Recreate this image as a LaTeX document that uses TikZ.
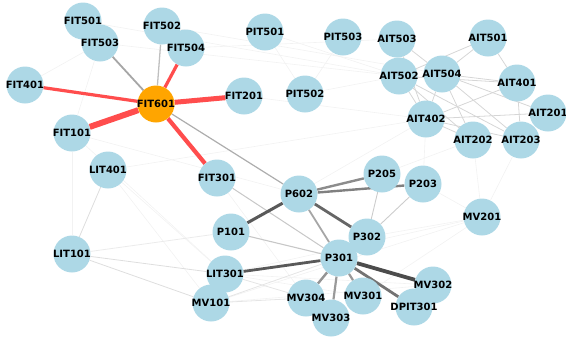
\documentclass[tikz,border=0pt]{standalone}
\usepackage{fontspec}
\newfontfamily\lblfont{DejaVu Sans}
\usetikzlibrary{backgrounds}
\definecolor{nodeblue}{RGB}{173,216,230}
\definecolor{hub}{RGB}{255,165,0}
\definecolor{redge}{RGB}{255,77,77}
\tikzset{
  nd/.style={circle, fill=nodeblue, minimum size=37pt, inner sep=0pt,
    font=\lblfont\bfseries\fontsize{10}{12}\selectfont},
  hubnd/.style={nd, fill=hub},
  faint/.style={draw=black!5, line width=0.6pt},
  light/.style={draw=black!16, line width=0.8pt},
}
\newcommand{\lb}[1]{\makebox[0pt]{#1}}
\begin{document}
\begin{tikzpicture}[x=1pt,y=-1pt]
\useasboundingbox (0,0) rectangle (566,338);
% nodes
\node[nd] (FIT501) at (83,21) {\lb{FIT501}};
\node[nd] (FIT502) at (162,26) {\lb{FIT502}};
\node[nd] (FIT503) at (100,43) {\lb{FIT503}};
\node[nd] (FIT504) at (186,48) {\lb{FIT504}};
\node[nd] (FIT401) at (25,85) {\lb{FIT401}};
\node[nd] (FIT201) at (244,96) {\lb{FIT201}};
\node[nd] (FIT101) at (72,133) {\lb{FIT101}};
\node[nd] (PIT501) at (265,32) {\lb{PIT501}};
\node[nd] (PIT503) at (343,37) {\lb{PIT503}};
\node[nd] (PIT502) at (305,94) {\lb{PIT502}};
\node[nd] (AIT503) at (397,39) {\lb{AIT503}};
\node[nd] (AIT501) at (488,38) {\lb{AIT501}};
\node[nd] (AIT502) at (399,76) {\lb{AIT502}};
\node[nd] (AIT504) at (442,74) {\lb{AIT504}};
\node[nd] (AIT401) at (517,83) {\lb{AIT401}};
\node[nd] (AIT201) at (548,113) {\lb{AIT201}};
\node[nd] (AIT402) at (426,119) {\lb{AIT402}};
\node[nd] (AIT202) at (473,140) {\lb{AIT202}};
\node[nd] (AIT203) at (521,140) {\lb{AIT203}};
\node[nd] (LIT401) at (108,170) {\lb{LIT401}};
\node[nd] (FIT301) at (217,178) {\lb{FIT301}};
\node[nd] (P101) at (231,232) {\lb{P101}};
\node[nd] (LIT101) at (72,254) {\lb{LIT101}};
\node[nd] (MV101) at (211,303) {\lb{MV101}};
\node[nd] (LIT301) at (225,274) {\lb{LIT301}};
\node[nd] (P205) at (382,174) {\lb{P205}};
\node[nd] (P203) at (423,184) {\lb{P203}};
\node[nd] (P602) at (299,194) {\lb{P602}};
\node[nd] (MV201) at (482,217) {\lb{MV201}};
\node[nd] (P302) at (367,237) {\lb{P302}};
\node[nd] (P301) at (339,258) {\lb{P301}};
\node[nd] (MV302) at (433,285) {\lb{MV302}};
\node[nd] (MV304) at (306,298) {\lb{MV304}};
\node[nd] (MV301) at (363,296) {\lb{MV301}};
\node[nd] (DPIT301) at (414,307) {\lb{DPIT301}};
\node[nd] (MV303) at (331,318) {\lb{MV303}};
\node[hubnd] (FIT601) at (156,104) {\lb{FIT601}};
\begin{pgfonlayer}{background}
% very faint background links
\foreach \a/\b in {FIT501/AIT502, FIT503/AIT502, FIT502/AIT504, PIT501/AIT502, FIT504/AIT503,
  PIT501/PIT502, PIT503/PIT502, FIT101/P602, FIT101/LIT301, LIT401/AIT402, LIT401/LIT301,
  LIT401/MV101, FIT101/LIT101, FIT401/FIT503, FIT101/FIT503, PIT502/AIT502, FIT201/AIT402,
  MV101/MV201, LIT301/MV201, P302/MV201, MV301/MV201, P203/MV201, AIT202/MV201, AIT203/MV201,
  P205/AIT202, P203/AIT402, MV101/MV302, LIT301/MV302, FIT301/MV304, P101/AIT402, LIT301/MV301}
  \draw[faint] (\a) -- (\b);
% AIT cluster
\foreach \a/\b in {AIT503/AIT504, AIT501/AIT504, AIT501/AIT502, AIT504/AIT401, AIT504/AIT201,
  AIT504/AIT203, AIT504/AIT202, AIT504/AIT402, AIT502/AIT402, AIT502/AIT202, AIT502/AIT203,
  AIT401/AIT402, AIT402/AIT201, AIT402/AIT202, AIT402/AIT203, AIT502/AIT401, AIT503/AIT402,
  AIT501/AIT401, AIT401/AIT203}
  \draw[light] (\a) -- (\b);
% left / lower light links
\draw[draw=black!13, line width=0.8pt] (LIT101) -- (LIT401);
\draw[draw=black!8, line width=0.8pt] (LIT101) -- (P101);
\draw[draw=black!13, line width=0.8pt] (LIT101) -- (LIT301);
\draw[draw=black!13, line width=0.8pt] (LIT101) -- (MV101);
\draw[draw=black!10, line width=0.8pt] (MV101) -- (MV304);
\draw[draw=black!10, line width=0.8pt] (MV101) -- (P301);
\draw[draw=black!10, line width=0.8pt] (LIT301) -- (MV304);
\draw[draw=black!20, line width=0.9pt] (P205) -- (P302);
\draw[draw=black!20, line width=0.9pt] (P203) -- (P302);
\draw[draw=black!22, line width=1pt] (FIT301) -- (P301);
\draw[draw=black!22, line width=1.1pt] (P101) -- (P301);
% hub links
\draw[draw=black!35, line width=1.8pt] (FIT601) -- (FIT503);
\draw[draw=black!25, line width=1.3pt] (FIT601) -- (FIT502);
\draw[draw=black!32, line width=1.2pt] (FIT601) -- (P602);
\draw[draw=redge, line width=3.2pt] (FIT601) -- (FIT504);
\draw[draw=redge, line width=3.2pt] (FIT601) -- (FIT401);
\draw[draw=redge, line width=5pt] (FIT601) -- (FIT201);
\draw[draw=redge, line width=6pt] (FIT601) -- (FIT101);
\draw[draw=redge, line width=4.2pt] (FIT601) -- (FIT301);
% pump / valve links
\draw[draw=black!65, line width=3pt] (P101) -- (P602);
\draw[draw=black!65, line width=2.8pt] (LIT301) -- (P301);
\draw[draw=black!70, line width=3.8pt] (P301) -- (MV302);
\draw[draw=black!55, line width=2.8pt] (P301) -- (DPIT301);
\draw[draw=black!60, line width=2.8pt] (P602) -- (P302);
\draw[draw=black!45, line width=2.4pt] (P602) -- (P205);
\draw[draw=black!50, line width=2.4pt] (P602) -- (P203);
\draw[draw=black!35, line width=1.8pt] (P602) -- (P301);
\draw[draw=black!42, line width=2.4pt] (P301) -- (MV304);
\draw[draw=black!40, line width=2.2pt] (P301) -- (MV303);
\draw[draw=black!40, line width=2.2pt] (P301) -- (MV301);
\end{pgfonlayer}
\end{tikzpicture}
\end{document}
